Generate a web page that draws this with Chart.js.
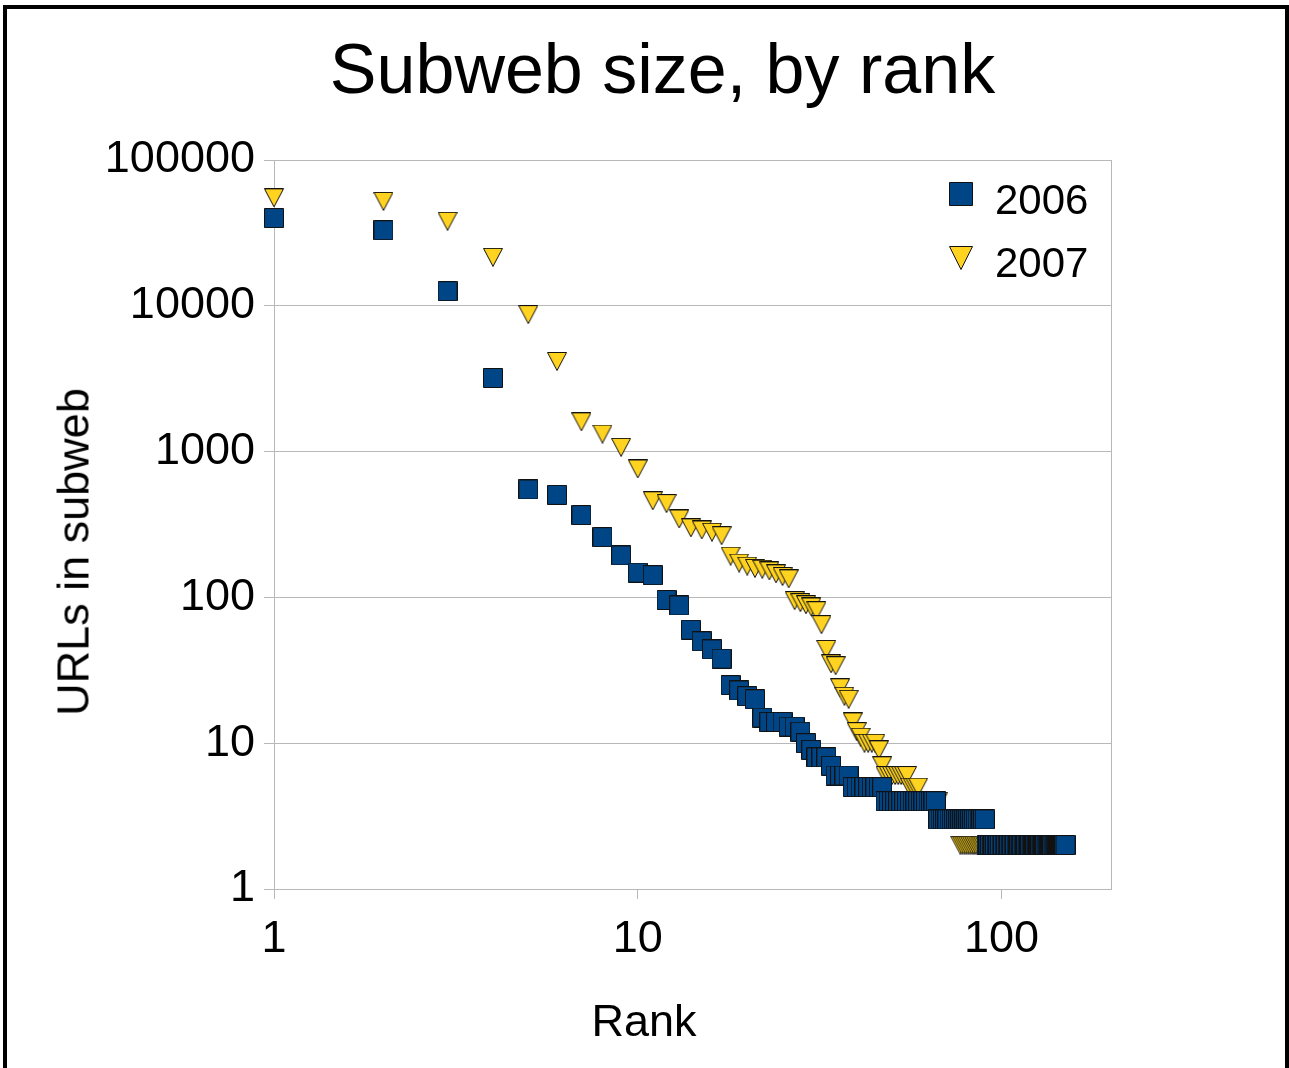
<!DOCTYPE html>
<html>
<head>
<meta charset="utf-8">
<title>Subweb size, by rank</title>
<script src="https://cdn.jsdelivr.net/npm/chart.js@4"></script>
<style>
    body { margin: 0; width: 1289px; height: 1068px; overflow: hidden; position: relative; background: #fff;
           font-family: "Liberation Sans", Arial, sans-serif; color: #000; }
    #frame { position: absolute; left: 3px; top: 5px; width: 1278px; height: 1100px; border: 4px solid #000; }
    #chart { position: absolute; left: 0; top: 0; }
    .txt { position: absolute; white-space: nowrap; }
    #title { left: 0; width: 1325px; top: 34px; text-align: center; font-size: 70px; line-height: 70px; }
    #xTitle { left: 0; width: 1288px; top: 998px; text-align: center; font-size: 45px; line-height: 45px; }
    #yTitle { left: 73px; top: 552px; font-size: 45px; line-height: 45px; transform: translate(-50%, -50%) rotate(-90deg); }
    .legendItem { position: absolute; left: 949px; font-size: 42px; line-height: 42px; }
    .legendItem canvas { position: absolute; left: 0; }
    .legendItem span { position: absolute; left: 46px; top: 0; }
</style>
</head>
<body>
<div id="frame"></div>
<canvas id="chart" width="1289" height="1068"></canvas>
<div class="txt" id="title">Subweb size, by rank</div>
<div class="txt" id="xTitle">Rank</div>
<div class="txt" id="yTitle">URLs in subweb</div>
<div id="legend"></div>

<script>
// series: URLs per subweb, sorted by rank (rank = position in list)
const seriesNames = ["2006", "2007"];

const sizes2006 = [
    40000, 33000, 12600, 3200, 550, 505, 367, 259, 194, 148,
    142, 96, 88, 60, 50, 44, 38, 25, 23, 21,
    20, 15, 14, 14, 14, 13, 13, 12, 10, 9,
    8, 8, 8, 7, 6, 6, 6, 6, 5, 5,
    5, 5, 5, 5, 5, 5, 5, 4, 4, 4,
    4, 4, 4, 4, 4, 4, 4, 4, 4, 4,
    4, 4, 4, 4, 4, 4, 3, 3, 3, 3,
    3, 3, 3, 3, 3, 3, 3, 3, 3, 3,
    3, 3, 3, 3, 3, 3, 3, 3, 3, 3,
    2, 2, 2, 2, 2, 2, 2, 2, 2, 2,
    2, 2, 2, 2, 2, 2, 2, 2, 2, 2,
    2, 2, 2, 2, 2, 2, 2, 2, 2, 2,
    2, 2, 2, 2, 2, 2, 2, 2, 2, 2,
    2, 2, 2, 2, 2, 2, 2, 2, 2, 2,
    2, 2, 2, 2, 2, 2, 2, 2, 2, 2
];

const sizes2007 = [
    55000, 52000, 38000, 21500, 8700, 4150, 1600, 1320, 1070, 760,
    460, 440, 345, 300, 290, 280, 265, 192, 172, 164,
    158, 156, 152, 145, 139, 134, 95, 92, 89, 86,
    81, 65, 44, 35, 34, 24, 21, 20, 14, 12,
    11, 10, 10, 10, 10, 9, 7, 6, 6, 6,
    6, 6, 6, 6, 6, 5, 5, 5, 5, 4,
    4, 4, 4, 4, 4, 4, 4, 3, 3, 3,
    3, 3, 3, 3, 3, 3, 2, 2, 2, 2,
    2, 2, 2, 2, 2, 2, 2, 2, 2, 2,
    2, 2, 2, 2, 2, 2, 2, 2, 2, 2
];

const xTicks = [1, 10, 100];
const yTicks = [1, 10, 100, 1000, 10000, 100000];

const blue = "#004586";
const yellow = "#ffd320";
const gridColor = "#b8b8b8";


function makeMarker(kind, w, h) {
    const c = document.createElement("canvas");
    c.width = w;
    c.height = h;
    const ctx = c.getContext("2d");
    ctx.lineWidth = 1;
    ctx.strokeStyle = "#111";
    ctx.beginPath();
    if (kind === "square") {
        ctx.rect(0.5, 0.5, w - 1, h - 1);
        ctx.fillStyle = blue;
    } else {
        ctx.moveTo(0.5, 0.5);
        ctx.lineTo(w - 0.5, 0.5);
        ctx.lineTo(w / 2, h - 0.5);
        ctx.closePath();
        ctx.fillStyle = yellow;
    }
    ctx.fill();
    ctx.stroke();
    return c;
}

const squareMark = makeMarker("square", 20, 20);
const triMark = makeMarker("triangle", 20, 19);

function toPoints(list) {
    return list.map((v, i) => ({ x: i + 1, y: v }));
}

// light grey box round the plot area
const plotBox = {
    id: "plotBox",
    beforeDatasetsDraw(chart) {
        const { ctx, chartArea: a } = chart;
        ctx.save();
        ctx.strokeStyle = gridColor;
        ctx.lineWidth = 1;
        ctx.strokeRect(Math.round(a.left) + 0.5, Math.round(a.top) + 0.5,
                       Math.round(a.right - a.left), Math.round(a.bottom - a.top));
        ctx.restore();
    }
};

const tickFont = { family: "'Liberation Sans', Arial, sans-serif", size: 45 };

new Chart(document.getElementById("chart"), {
    type: "scatter",
    data: {
        datasets: [
            { label: seriesNames[0], data: toPoints(sizes2006), pointStyle: squareMark, pointRadius: 10, clip: false },
            { label: seriesNames[1], data: toPoints(sizes2007), pointStyle: triMark, pointRadius: 10, clip: false }
        ]
    },
    options: {
        responsive: false,
        animation: false,
        layout: { padding: { left: 0, top: 160, right: 178, bottom: 0 } },
        plugins: {
            legend: { display: false },
            title: { display: false },
            tooltip: { enabled: false }
        },
        scales: {
            x: {
                type: "logarithmic",
                min: 1,
                max: 200,
                afterBuildTicks: s => { s.ticks = xTicks.map(v => ({ value: v })); },
                afterFit: s => { s.height = 179; },
                ticks: { font: tickFont, color: "#000", padding: 14, autoSkip: false, maxRotation: 0,
                         callback: v => String(v) },
                grid: { drawOnChartArea: false, drawTicks: true, tickLength: 10, color: gridColor },
                border: { color: gridColor }
            },
            y: {
                type: "logarithmic",
                min: 1,
                max: 100000,
                afterBuildTicks: s => { s.ticks = yTicks.map(v => ({ value: v })); },
                afterFit: s => { s.width = 274; },
                ticks: { font: tickFont, color: "#000", padding: 9, autoSkip: false,
                         callback: v => String(v) },
                grid: { color: gridColor, tickLength: 10 },
                border: { color: gridColor }
            }
        }
    },
    plugins: [plotBox]
});


// legend, placed inside the plot like the original
const legendEl = document.getElementById("legend");
[["square", 182, 179], ["triangle", 246, 242]].forEach((it, i) => {
    const item = document.createElement("div");
    item.className = "legendItem";
    item.style.top = it[2] + "px";
    const mark = makeMarker(it[0], 24, 24);
    mark.style.top = (it[1] - it[2]) + "px";
    const label = document.createElement("span");
    label.textContent = seriesNames[i];
    item.appendChild(mark);
    item.appendChild(label);
    legendEl.appendChild(item);
});
</script>
</body>
</html>
